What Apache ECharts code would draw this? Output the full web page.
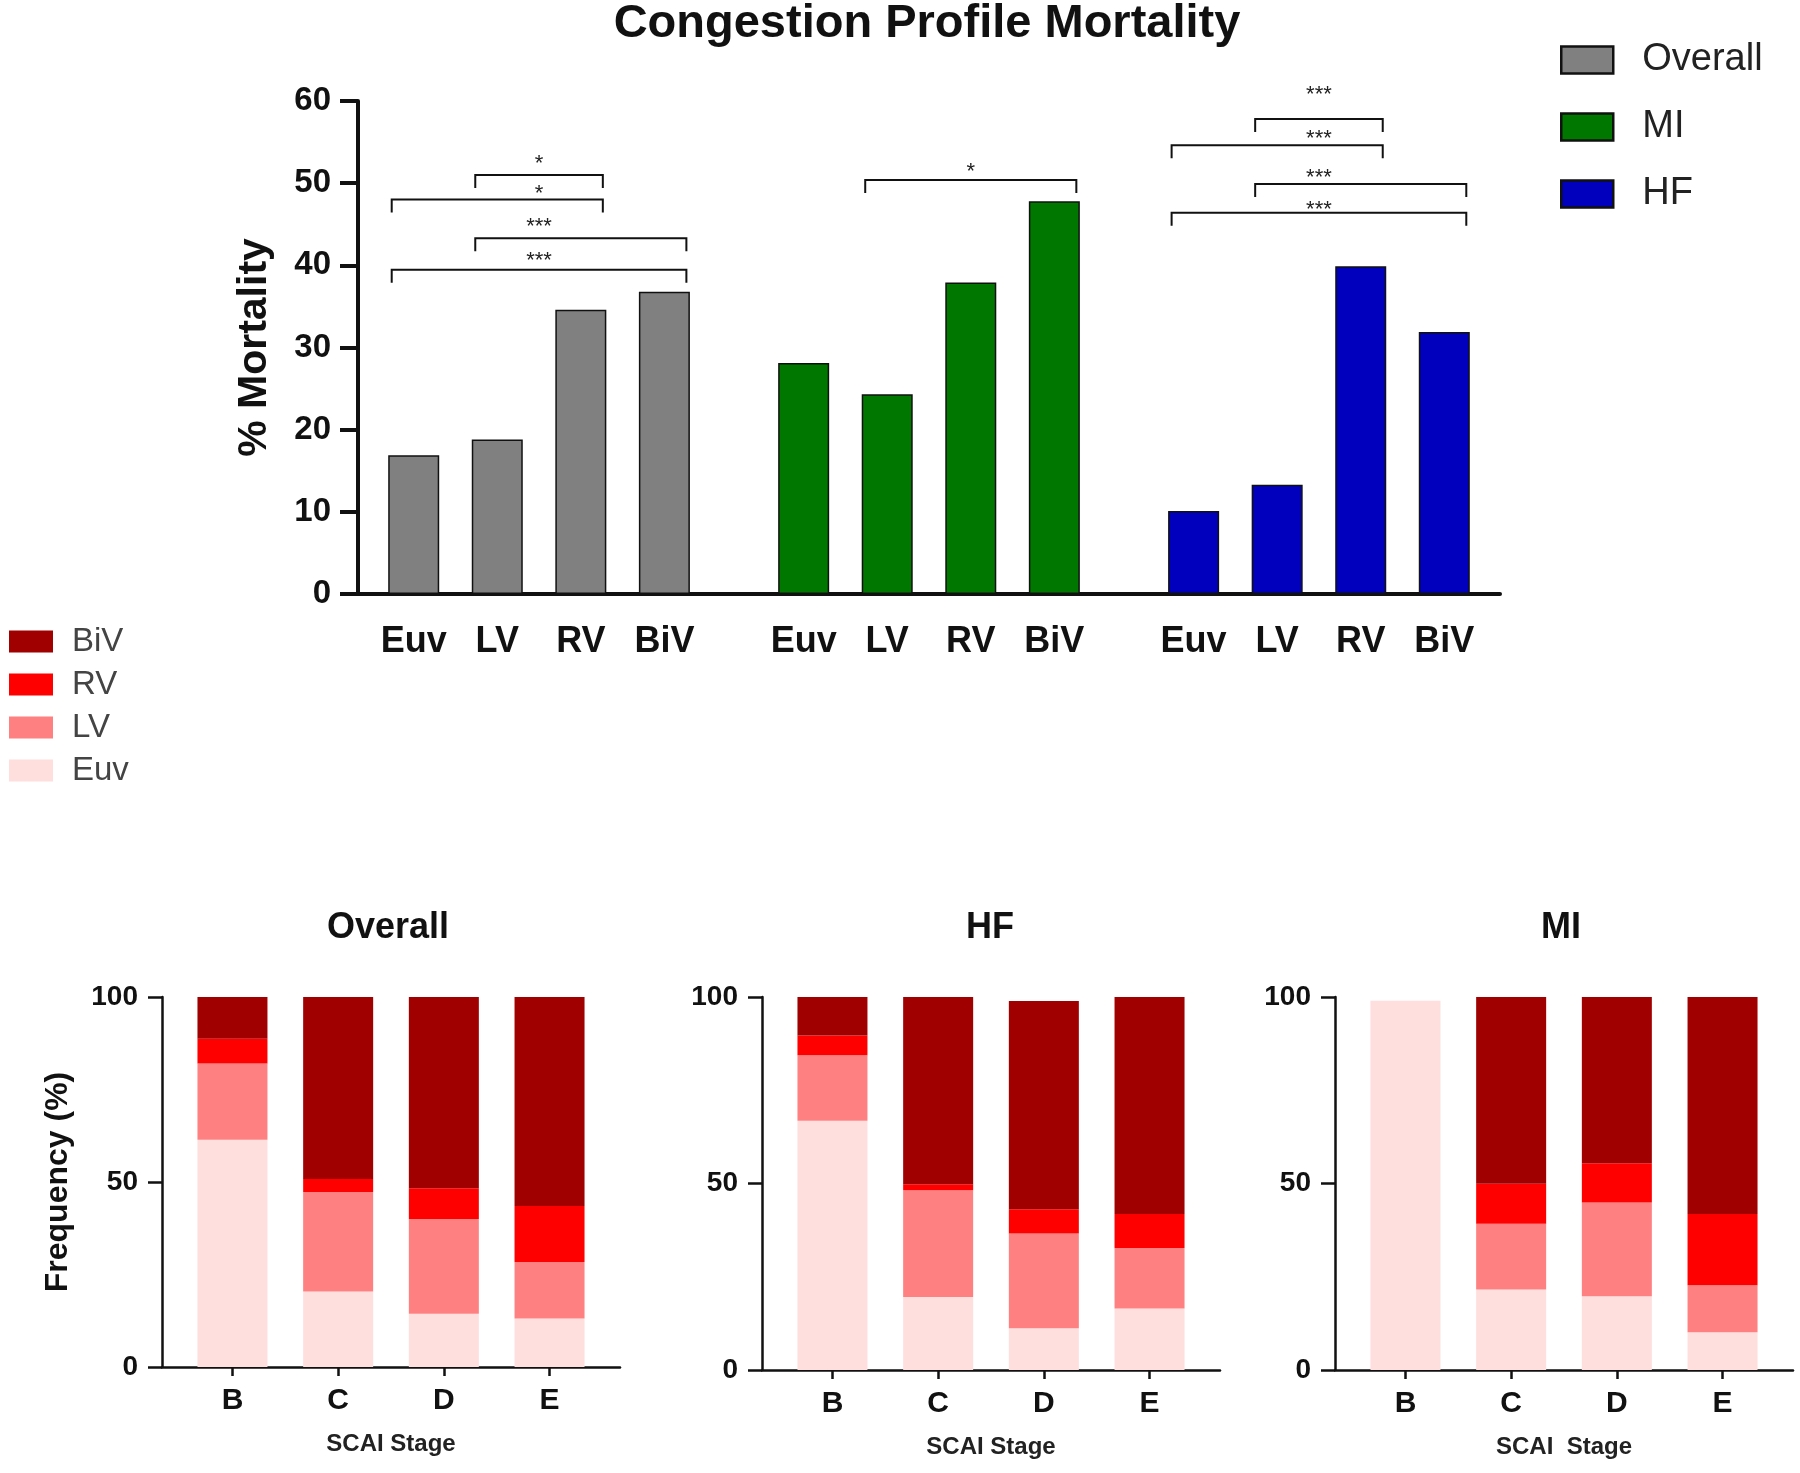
<!DOCTYPE html>
<html><head><meta charset="utf-8">
<script src="https://cdn.jsdelivr.net/npm/echarts@6/dist/echarts.min.js"></script>
<style>html,body{margin:0;padding:0;background:#fff}#chart{width:1800px;height:1473px}</style>
</head><body><div id="chart"></div>
<script>
// ---------------- data ----------------
const chartTitle = 'Congestion Profile Mortality';
const profiles = ['Euv', 'LV', 'RV', 'BiV'];
const groups = ['Overall', 'MI', 'HF'];
const overallMortality = [16.9, 18.8, 34.6, 36.8];
const miMortality = [28.1, 24.3, 37.9, 47.8];
const hfMortality = [10.1, 13.3, 39.9, 31.9];
const mortalityTicks = [0, 10, 20, 30, 40, 50, 60];
const mortalityAxisName = '% Mortality';
// [group, from, to, text, bracketValue, labelValue, labelBetweenA, labelBetweenB]
const significance = [
  ['Overall', 'LV', 'RV', '*', 51.0, 53.0, 'LV', 'RV'],
  ['Overall', 'Euv', 'RV', '*', 48.0, 49.3, 'LV', 'RV'],
  ['Overall', 'LV', 'BiV', '***', 43.3, 45.3, 'LV', 'RV'],
  ['Overall', 'Euv', 'BiV', '***', 39.45, 41.1, 'LV', 'RV'],
  ['MI', 'LV', 'BiV', '*', 50.4, 52.0, 'LV', 'BiV'],
  ['HF', 'LV', 'RV', '***', 57.8, 61.4, 'LV', 'RV'],
  ['HF', 'Euv', 'RV', '***', 54.6, 56.0, 'LV', 'RV'],
  ['HF', 'LV', 'BiV', '***', 49.9, 51.2, 'LV', 'RV'],
  ['HF', 'Euv', 'BiV', '***', 46.4, 47.3, 'LV', 'RV']
];

const stages = ['B', 'C', 'D', 'E'];
const frequencyTicks = [0, 50, 100];
const frequencyAxisName = 'Frequency (%)';
const panelTitles = ['Overall', 'HF', 'MI'];
const stageAxisNames = ['SCAI Stage', 'SCAI Stage', 'SCAI  Stage'];
const stackNames = ['BiV', 'RV', 'LV', 'Euv'];
const overallEuv = [61.4, 20.4, 14.4, 13.1];
const overallLV  = [20.6, 26.9, 25.6, 15.3];
const overallRV  = [6.7, 3.5, 8.3, 15.1];
const overallBiV = [11.3, 49.2, 51.7, 56.5];
const hfEuv = [66.8, 19.6, 11.2, 16.5];
const hfLV  = [17.6, 28.6, 25.4, 16.2];
const hfRV  = [5.3, 1.6, 6.5, 9.1];
const hfBiV = [10.3, 50.2, 55.8, 58.2];
const miEuv = [99.0, 21.6, 19.8, 10.1];
const miLV  = [0, 17.6, 25.1, 12.6];
const miRV  = [0, 10.7, 10.5, 19.1];
const miBiV = [0, 50.1, 44.6, 58.2];

// ---------------- styles ----------------
const FONT = '"Liberation Sans", Arial, Helvetica, sans-serif';
const INK = '#111';
const groupColors = ['#808080', '#007800', '#0000bd'];
const stackColors = { BiV: '#a00000', RV: '#ff0000', LV: '#ff8080', Euv: '#ffdede' };

// slot layout of the top category axis (blank spacer categories)
const TOP_LEAD = 2, TOP_STEP = 3, TOP_GAP = 5, TOP_TRAIL = 2;
const groupSpan = (profiles.length - 1) * TOP_STEP + TOP_GAP;
const topSlotCount = TOP_LEAD + (groups.length - 1) * groupSpan + (profiles.length - 1) * TOP_STEP + TOP_TRAIL + 1;
const topSlot = (gi, ci) => TOP_LEAD + gi * groupSpan + ci * TOP_STEP;
const topCats = new Array(topSlotCount).fill('');
groups.forEach((g, gi) => profiles.forEach((p, ci) => { topCats[topSlot(gi, ci)] = p; }));

// slot layout of the bottom axes
const BOT_LEAD = 2, BOT_STEP = 3, BOT_TRAIL = 2;
const botSlotCount = BOT_LEAD + (stages.length - 1) * BOT_STEP + BOT_TRAIL + 1;
const botSlot = (i) => BOT_LEAD + i * BOT_STEP;
const botCats = new Array(botSlotCount).fill('');
stages.forEach((s, i) => { botCats[botSlot(i)] = s; });

const mortalityValues = [overallMortality, miMortality, hfMortality];
const panelData = [
  { Euv: overallEuv, LV: overallLV, RV: overallRV, BiV: overallBiV },
  { Euv: hfEuv, LV: hfLV, RV: hfRV, BiV: hfBiV },
  { Euv: miEuv, LV: miLV, RV: miRV, BiV: miBiV }
];
const panelLayout = [
  { left: 162, top: 997, height: 370, titleX: 388 },
  { left: 762, top: 997, height: 373, titleX: 990 },
  { left: 1335, top: 997, height: 373, titleX: 1561 }
];
const PANEL_W = 458;

const chart = echarts.init(document.getElementById('chart'), null, { renderer: 'canvas' });

const grids = [{ left: 358, width: 1142, top: 101, height: 493 }];
panelLayout.forEach(p => grids.push({ left: p.left, width: PANEL_W, top: p.top, height: p.height }));

const xAxes = [{
  gridIndex: 0, type: 'category', data: topCats, boundaryGap: false,
  axisLine: { lineStyle: { color: INK, width: 4 } },
  axisTick: { show: false },
  axisLabel: { interval: 0, margin: 30, fontSize: 36, fontWeight: 'bold', color: INK, fontFamily: FONT }
}];
const yAxes = [{
  gridIndex: 0, type: 'value',
  min: mortalityTicks[0], max: mortalityTicks[mortalityTicks.length - 1],
  interval: mortalityTicks[1] - mortalityTicks[0],
  name: mortalityAxisName, nameLocation: 'middle', nameGap: 83, nameRotate: 90,
  nameTextStyle: { fontSize: 41, fontWeight: 'bold', color: INK, fontFamily: FONT },
  axisLine: { show: true, lineStyle: { color: INK, width: 4 } },
  axisTick: { show: true, length: 18, lineStyle: { color: INK, width: 4 } },
  splitLine: { show: false },
  axisLabel: { margin: 27, fontSize: 33, fontWeight: 'bold', color: INK, fontFamily: FONT }
}];
panelLayout.forEach((p, i) => {
  xAxes.push({
    gridIndex: i + 1, type: 'category', data: botCats, boundaryGap: false,
    name: stageAxisNames[i], nameLocation: 'middle', nameGap: 65,
    nameTextStyle: { fontSize: 24, fontWeight: 'bold', color: '#222', fontFamily: FONT },
    axisLine: { lineStyle: { color: INK, width: 2.5 } },
    axisTick: { show: true, length: 9, lineStyle: { color: INK, width: 2.5 },
      interval: (idx, val) => val !== '' },
    axisLabel: { interval: 0, margin: 19, fontSize: 30, fontWeight: 'bold', color: INK, fontFamily: FONT }
  });
  yAxes.push({
    gridIndex: i + 1, type: 'value',
    min: frequencyTicks[0], max: frequencyTicks[frequencyTicks.length - 1],
    interval: frequencyTicks[1] - frequencyTicks[0],
    name: i === 0 ? frequencyAxisName : '', nameLocation: 'middle', nameGap: 88, nameRotate: 90,
    nameTextStyle: { fontSize: 32, fontWeight: 'bold', color: INK, fontFamily: FONT },
    axisLine: { show: true, lineStyle: { color: INK, width: 2.5 } },
    axisTick: { show: true, length: 14, lineStyle: { color: INK, width: 2.5 } },
    splitLine: { show: false },
    axisLabel: { margin: 24, fontSize: 28, fontWeight: 'bold', color: INK, fontFamily: FONT }
  });
});

const series = [];
groups.forEach((g, gi) => {
  const data = new Array(topSlotCount).fill('-');
  mortalityValues[gi].forEach((v, ci) => { data[topSlot(gi, ci)] = v; });
  series.push({
    type: 'bar', name: g, xAxisIndex: 0, yAxisIndex: 0, stack: 'mortality', barWidth: 51,
    itemStyle: { color: groupColors[gi], borderColor: INK, borderWidth: 1.5 },
    data
  });
});

series.push({
  type: 'custom', xAxisIndex: 0, yAxisIndex: 0, z: 5, clip: false, silent: true,
  encode: { x: 0, y: 1 },
  data: significance.map(b => [topSlot(groups.indexOf(b[0]), profiles.indexOf(b[1])), b[4]]),
  renderItem: (params, api) => {
    const b = significance[params.dataIndex];
    const gi = groups.indexOf(b[0]);
    const a = api.coord([topSlot(gi, profiles.indexOf(b[1])), b[4]]);
    const c = api.coord([topSlot(gi, profiles.indexOf(b[2])), b[4]]);
    const la = api.coord([topSlot(gi, profiles.indexOf(b[6])), b[5]]);
    const lb = api.coord([topSlot(gi, profiles.indexOf(b[7])), b[5]]);
    const x1 = a[0] - 22, x2 = c[0] + 22, y = a[1];
    return {
      type: 'group',
      children: [
        { type: 'polyline', shape: { points: [[x1, y + 13], [x1, y], [x2, y], [x2, y + 13]] },
          style: { stroke: INK, lineWidth: 2, fill: null } },
        { type: 'text', x: (la[0] + lb[0]) / 2, y: la[1] + 5,
          style: { text: b[3], fontSize: 22, fontFamily: FONT, fill: '#222', align: 'center', verticalAlign: 'middle' } }
      ]
    };
  }
});

panelData.forEach((pd, pi) => {
  ['Euv', 'LV', 'RV', 'BiV'].forEach(name => {
    const data = new Array(botSlotCount).fill('-');
    pd[name].forEach((v, i) => { data[botSlot(i)] = v; });
    series.push({
      type: 'bar', name, xAxisIndex: pi + 1, yAxisIndex: pi + 1, stack: 'panel' + pi, barWidth: 70,
      itemStyle: { color: stackColors[name] }, data
    });
  });
});

const graphic = [
  { type: 'text', x: 927, y: 24, style: { text: chartTitle, fontSize: 47, fontWeight: 'bold', fontFamily: FONT, fill: INK, align: 'center', verticalAlign: 'middle' } }
];
panelLayout.forEach((p, i) => graphic.push({
  type: 'text', x: p.titleX, y: 928, style: { text: panelTitles[i], fontSize: 36, fontWeight: 'bold', fontFamily: FONT, fill: INK, align: 'center', verticalAlign: 'middle' }
}));

chart.setOption({
  backgroundColor: '#fff',
  animation: false,
  grid: grids,
  xAxis: xAxes,
  yAxis: yAxes,
  legend: [
    { data: groups, orient: 'vertical', left: 1555, top: 36, itemWidth: 52, itemHeight: 27, itemGap: 29,
      icon: 'rect', selectedMode: false,
      itemStyle: { borderColor: INK, borderWidth: 2.5 },
      textStyle: { fontSize: 38, color: '#222', fontFamily: FONT, lineHeight: 27, padding: [0, 0, 0, 24] } },
    { data: stackNames, orient: 'vertical', left: 4, top: 620, itemWidth: 44, itemHeight: 22, itemGap: 10,
      icon: 'rect', selectedMode: false,
      textStyle: { fontSize: 33, color: '#444', fontFamily: FONT, lineHeight: 22, padding: [0, 0, 0, 14] } }
  ],
  graphic,
  series
});
</script></body></html>
